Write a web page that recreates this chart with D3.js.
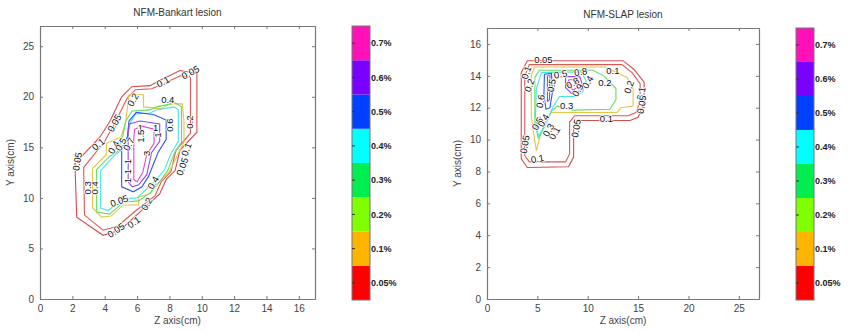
<!DOCTYPE html>
<html>
<head>
<meta charset="utf-8">
<script src="https://cdn.jsdelivr.net/npm/d3@7"></script>
<style>
  body { margin: 0; background: #fff; }
  svg { display: block; font-family: Arial, "Liberation Sans", sans-serif; }
</style>
</head>
<body>
<svg id="chart" width="848" height="331"></svg>
<script>
// contour levels and colorbar labels
const levels = [0.05, 0.1, 0.2, 0.3, 0.4, 0.5, 0.6, 0.7];
const colorbarLabels = ['0.05%', '0.1%', '0.2%', '0.3%', '0.4%', '0.5%', '0.6%', '0.7%'];
const bandColors = ['#ff0000', '#ffb400', '#80ff00', '#00ee50', '#00ffff', '#0040ff', '#7a00ff', '#ff10b8'];
const lineColors = {0.05: '#d05050', 0.1: '#d85a5a', 0.2: '#e8c448', 0.3: '#66dc66', 0.4: '#48e4e4', 0.5: '#2858f0', 0.6: '#9448e0', 0.7: '#e048c8'};

// NFM-Bankart lesion, contour paths [z, y] in cm
const bankart005 = [[5.05,20.0],[5.67,21.0],[6.8,21.1],[7.4,21.6],[8.65,22.6],[9.7,22.3],[9.7,16.5],[8.65,14.7],[8.35,12.7],[7.8,11.8],[7.4,10.4],[6.1,8.5],[4.95,6.8],[3.9,6.3],[2.27,8.1],[2.16,13.4],[3.7,16.0],[4.3,17.5],[5.05,20.0]];
const bankart01 = [[5.4,19.9],[5.9,20.7],[6.9,20.8],[7.5,21.2],[8.7,22.1],[9.3,21.9],[9.3,16.4],[8.4,14.7],[8.1,12.6],[7.5,11.6],[7.1,10.2],[5.9,8.7],[4.8,7.2],[3.9,6.8],[2.75,8.3],[2.7,13.0],[4.0,15.6],[4.6,17.3],[5.4,19.9]];
const bankart02 = [[5.5,20.2],[6.4,20.2],[6.4,19.0],[7.5,18.8],[8.0,19.3],[8.8,19.3],[8.9,17.5],[8.9,15.5],[8.55,14.4],[8.0,12.6],[7.4,11.6],[6.8,10.4],[6.1,10.1],[6.1,9.3],[5.15,9.3],[4.4,8.2],[3.8,8.1],[3.25,9.0],[3.25,12.9],[4.1,14.3],[4.1,15.4],[5.0,16.0],[5.3,17.5],[5.5,20.2]];
const bankart03 = [[5.3,17.6],[5.7,18.6],[6.8,18.7],[7.2,19.0],[8.35,19.4],[8.75,19.0],[8.75,15.5],[8.3,14.4],[7.9,12.7],[7.4,11.6],[6.8,10.5],[6.1,9.7],[5.2,9.6],[4.3,8.4],[3.5,8.6],[3.5,12.8],[4.3,14.1],[4.8,14.6],[5.1,16.0],[5.3,17.6]];
const bankart04 = [[5.6,17.5],[5.9,18.3],[6.8,18.4],[7.2,18.7],[8.3,19.0],[8.55,18.7],[8.55,15.6],[8.1,14.4],[7.7,12.8],[7.2,11.8],[6.6,10.9],[6.0,10.0],[5.15,9.9],[4.2,8.75],[3.75,9.0],[3.75,12.7],[4.6,14.2],[5.1,14.8],[5.4,16.0],[5.6,17.5]];
const bankart05 = [[5.5,17.6],[5.95,18.45],[7.0,18.25],[7.8,17.7],[7.8,15.8],[7.3,14.5],[7.1,13.7],[6.7,12.1],[6.3,11.1],[5.77,10.6],[5.05,11.1],[5.05,15.0],[5.4,16.0],[5.5,17.6]];
const bankart06 = [[5.5,17.3],[6.2,17.6],[7.4,17.3],[7.4,15.6],[6.9,14.5],[6.6,12.3],[6.1,11.3],[5.7,11.1],[5.45,11.6],[5.45,16.5],[5.5,17.3]];
const bankart07 = [[5.85,16.8],[6.3,17.1],[7.05,16.8],[7.05,15.4],[6.6,14.3],[6.35,12.5],[6.0,11.6],[5.8,11.8],[5.8,16.0],[5.85,16.8]];
const bankartLabels = [
  [7.6,21.5,'0.1',-28],[9.3,22.4,'0.05',-28],[5.75,19.7,'0.2',-60],[7.9,19.7,'0.4',0],
  [4.6,17.4,'0.05',-60],[3.6,15.3,'0.1',-40],[2.3,13.6,'0.05',-80],[2.95,11.0,'0.3',-90],
  [3.35,11.0,'0.4',-90],[4.7,6.8,'0.05',-35],[5.8,7.6,'0.1',-35],[4.9,9.7,'0.05',-20],
  [6.6,9.4,'0.2',-60],[7.0,11.5,'0.4',-60],[8.8,13.1,'0.05',-70],[9.05,14.8,'0.1',-70],
  [9.25,17.5,'0.2',-90],[8.0,17.2,'0.6',-90],[6.2,16.9,'1',0],[6.2,16.1,'1.5',-90],
  [7.15,16.9,'1',0],[7.3,16.2,'1',-90],[6.6,14.4,'3',-90],[5.4,13.6,'1',-90],
  [5.4,12.6,'1',-90],[5.4,11.7,'1',-90],[4.55,15.0,'0.4',-60],[5.0,15.3,'0.5',-60],[5.5,15.3,'0.7',-60]
];

// NFM-SLAP lesion, contour paths [z, y] in cm
const slap005 = [[3.4,8.8],[3.4,14.2],[4.0,14.95],[13.5,14.95],[14.6,14.4],[15.6,13.6],[15.6,12.3],[15.0,11.4],[14.2,11.2],[9.0,11.2],[8.6,10.8],[8.6,8.9],[8.1,8.3],[4.0,8.25],[3.4,8.8]];
const slap01 = [[3.75,9.0],[3.75,14.0],[4.2,14.7],[13.4,14.7],[14.4,14.2],[15.2,13.5],[15.2,12.4],[14.8,11.7],[14.0,11.5],[8.7,11.5],[8.2,11.1],[8.2,9.1],[7.8,8.6],[4.2,8.6],[3.75,9.0]];
const slap02 = [[4.4,14.0],[4.7,14.55],[11.7,14.55],[12.9,14.2],[13.9,13.9],[14.5,13.2],[14.5,12.1],[13.3,12.0],[12.9,11.7],[6.4,11.7],[5.9,11.3],[5.3,10.3],[4.9,9.3],[4.6,10.5],[4.4,11.5],[4.4,14.0]];
const slap03 = [[4.75,13.9],[5.2,14.35],[10.5,14.35],[11.6,14.0],[12.8,13.2],[12.8,12.5],[12.2,11.9],[8.5,11.85],[7.0,12.1],[6.4,11.8],[5.8,10.9],[5.1,10.1],[4.75,11.0],[4.75,13.9]];
const slap04 = [[5.4,14.2],[9.35,14.25],[9.85,13.7],[9.5,13.0],[8.7,12.7],[7.2,12.7],[6.55,12.05],[5.75,10.9],[5.1,10.2],[4.8,11.3],[4.9,13.2],[5.4,14.2]];
const slap05a = [[5.7,14.1],[6.4,14.15],[6.5,13.0],[6.25,12.0],[5.85,11.9],[5.65,12.8],[5.7,14.1]];
const slap05b = [[4.95,11.15],[5.25,11.35],[5.1,10.9],[4.95,11.15]];
const slap06a = [[6.0,14.0],[6.25,14.0],[6.2,12.5],[6.0,12.4],[6.0,14.0]];
const slap06b = [[7.8,13.95],[9.2,13.95],[9.5,13.4],[9.1,13.0],[8.4,12.9],[7.8,13.25],[7.8,13.95]];
const slap07 = [[8.1,13.75],[8.85,13.75],[9.0,13.3],[8.55,13.1],[8.1,13.4],[8.1,13.75]];
const slapLabels = [
  [5.6,15.0,'0.05',0],[12.5,14.35,'0.1',0],[11.7,13.6,'0.2',0],[14.1,13.3,'0.2',-70],
  [15.3,12.9,'0.1',-80],[15.35,12.2,'0.05',-80],[11.85,11.3,'0.1',0],[7.9,12.15,'0.3',0],
  [8.85,10.7,'0.05',-80],[6.7,10.4,'0.1',-60],[3.75,9.7,'0.05',-80],[5.0,8.8,'0.1',-10],
  [3.9,14.2,'0.1',-70],[4.2,13.4,'0.2',-70],[6.4,13.4,'0.5',-80],[5.3,12.4,'0.6',-80],
  [7.3,14.1,'0.5',-10],[9.3,14.25,'0.8',-10],[8.5,13.55,'0.8',-30],[10.0,13.6,'0.4',-60],
  [9.0,13.1,'0.9',-60],[5.0,11.0,'0.5',-60],[5.6,11.2,'0.4',-60],[6.1,10.6,'0.3',-60]
];

const panels = [
  {
    title: 'NFM-Bankart lesion', xMax: 17, yMax: 27,
    xTicks: d3.range(0, 17, 2), yTicks: d3.range(0, 26, 5),
    box: {x0: 40, x1: 315, y0: 26, y1: 299}, bar: {x: 352, w: 18, y0: 26, y1: 300},
    contours: [[0.05, bankart005], [0.1, bankart01], [0.2, bankart02], [0.3, bankart03],
               [0.4, bankart04], [0.5, bankart05], [0.6, bankart06], [0.7, bankart07]],
    labels: bankartLabels
  },
  {
    title: 'NFM-SLAP lesion', xMax: 27, yMax: 17,
    xTicks: d3.range(0, 26, 5), yTicks: d3.range(0, 17, 2),
    box: {x0: 487, x1: 759, y0: 28, y1: 299}, bar: {x: 796, w: 18, y0: 28, y1: 300},
    contours: [[0.05, slap005], [0.1, slap01], [0.2, slap02], [0.3, slap03], [0.4, slap04],
               [0.5, slap05a], [0.5, slap05b], [0.6, slap06a], [0.6, slap06b], [0.7, slap07]],
    labels: slapLabels
  }
];

const svg = d3.select('#chart');
const axisColor = '#777';
const textColor = '#444';

panels.forEach(p => {
  const x = d3.scaleLinear().domain([0, p.xMax]).range([p.box.x0, p.box.x1]);
  const y = d3.scaleLinear().domain([0, p.yMax]).range([p.box.y1, p.box.y0]);
  const g = svg.append('g');

  // contour lines
  const line = d3.line().x(d => x(d[0])).y(d => y(d[1]));
  g.append('g')
    .attr('fill', 'none')
    .attr('stroke-width', 1.1)
    .selectAll('path')
    .data(p.contours)
    .join('path')
    .attr('stroke', d => lineColors[d[0]])
    .attr('d', d => line(d[1]));

  // contour labels
  g.append('g')
    .attr('font-size', 9.5)
    .attr('text-anchor', 'middle')
    .selectAll('text')
    .data(p.labels)
    .join('text')
    .attr('transform', d => `translate(${x(d[0])},${y(d[1])}) rotate(${d[3]})`)
    .attr('dy', '0.35em')
    .attr('fill', '#111')
    .attr('stroke', '#fff')
    .attr('stroke-width', 1.6)
    .attr('paint-order', 'stroke')
    .text(d => d[2]);

  // axes with inward ticks (box on)
  const styleAxis = sel => {
    sel.select('.domain').attr('stroke', axisColor);
    sel.selectAll('.tick line').attr('stroke', axisColor);
    sel.selectAll('.tick text').attr('fill', textColor).attr('font-size', 10);
  };
  g.append('g').attr('transform', `translate(0,${p.box.y1})`)
    .call(d3.axisBottom(x).tickValues(p.xTicks).tickSizeInner(-3).tickSizeOuter(0).tickPadding(6))
    .call(styleAxis);
  g.append('g').attr('transform', `translate(0,${p.box.y0})`)
    .call(d3.axisTop(x).tickValues(p.xTicks).tickSizeInner(-3).tickSizeOuter(0).tickFormat(''))
    .call(styleAxis);
  g.append('g').attr('transform', `translate(${p.box.x0},0)`)
    .call(d3.axisLeft(y).tickValues(p.yTicks).tickSizeInner(-3).tickSizeOuter(0).tickPadding(6))
    .call(styleAxis);
  g.append('g').attr('transform', `translate(${p.box.x1},0)`)
    .call(d3.axisRight(y).tickValues(p.yTicks).tickSizeInner(-3).tickSizeOuter(0).tickFormat(''))
    .call(styleAxis);
  g.selectAll('.domain').attr('stroke-width', 1.2);

  const cx = (p.box.x0 + p.box.x1) / 2;
  const cy = (p.box.y0 + p.box.y1) / 2;
  g.append('text').attr('x', cx).attr('y', p.box.y0 - 10)
    .attr('text-anchor', 'middle').attr('font-size', 10).attr('fill', '#333')
    .text(p.title);
  g.append('text').attr('x', cx).attr('y', 324)
    .attr('text-anchor', 'middle').attr('font-size', 10).attr('fill', textColor)
    .text('Z axis(cm)');
  g.append('text').attr('transform', `translate(${p.box.x0 - 26},${cy}) rotate(-90)`)
    .attr('text-anchor', 'middle').attr('font-size', 10).attr('fill', textColor)
    .text('Y axis(cm)');

  // colorbar
  const band = d3.scaleBand().domain(levels.slice().reverse()).range([p.bar.y0, p.bar.y1]);
  const cb = g.append('g');
  cb.selectAll('rect')
    .data(levels)
    .join('rect')
    .attr('x', p.bar.x)
    .attr('y', d => band(d))
    .attr('width', p.bar.w)
    .attr('height', band.bandwidth())
    .attr('fill', (d, i) => bandColors[i]);
  cb.append('rect')
    .attr('x', p.bar.x).attr('y', p.bar.y0)
    .attr('width', p.bar.w).attr('height', p.bar.y1 - p.bar.y0)
    .attr('fill', 'none').attr('stroke', axisColor);
  cb.selectAll('line')
    .data(levels)
    .join('line')
    .attr('x1', p.bar.x).attr('x2', p.bar.x + 3)
    .attr('y1', d => band(d) + band.bandwidth() / 2)
    .attr('y2', d => band(d) + band.bandwidth() / 2)
    .attr('stroke', '#333');
  cb.selectAll('text')
    .data(levels)
    .join('text')
    .attr('x', p.bar.x + p.bar.w + 1)
    .attr('y', d => band(d) + band.bandwidth() / 2)
    .attr('dy', '0.35em')
    .attr('font-size', 9)
    .attr('font-weight', 'bold')
    .attr('fill', '#222')
    .text((d, i) => colorbarLabels[i]);
});
</script>
</body>
</html>
